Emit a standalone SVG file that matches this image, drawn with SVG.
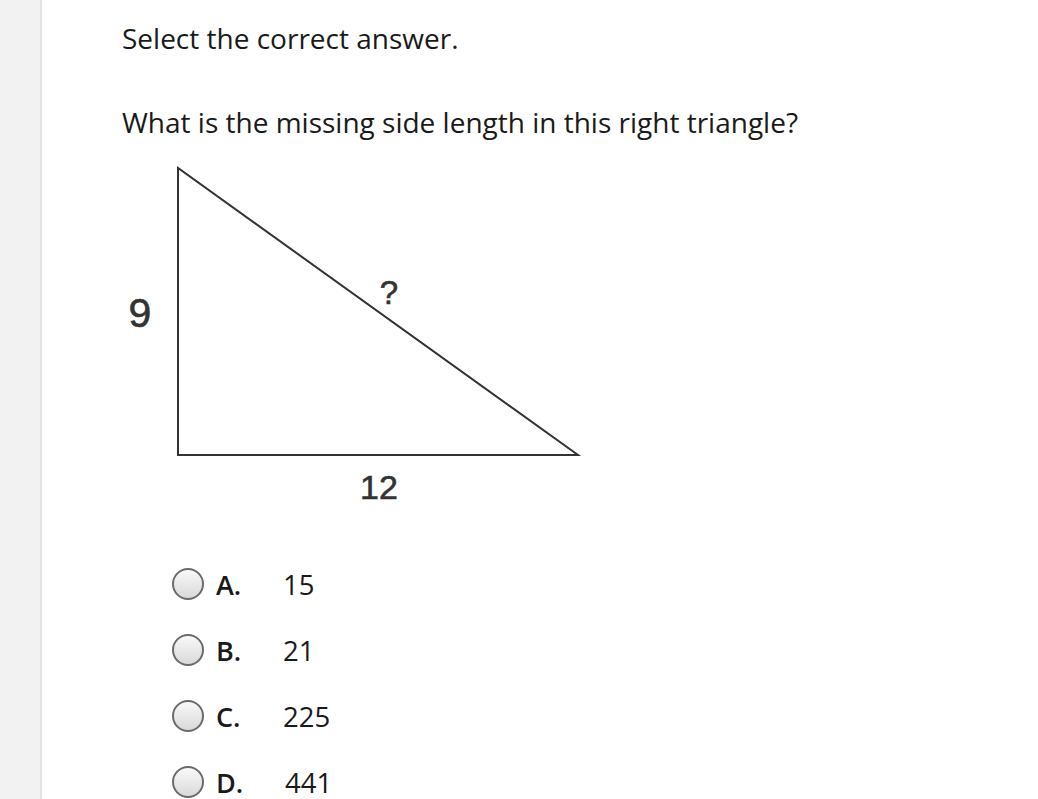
<svg xmlns="http://www.w3.org/2000/svg" width="1038" height="799" viewBox="0 0 1038 799">
<defs>
<linearGradient id="rg" x1="0" y1="0" x2="0" y2="1">
<stop offset="0" stop-color="#fafafa"/>
<stop offset="1" stop-color="#d8d8d8"/>
</linearGradient>
<style>
.q{font-family:"Open Sans","Liberation Sans",sans-serif;font-size:28px;fill:#1a1a1a}
.lab{font-family:"Open Sans","Liberation Sans",sans-serif;font-size:27px;font-weight:600;fill:#1a1a1a}
.val{font-family:"Open Sans","Liberation Sans",sans-serif;font-size:27.5px;fill:#1a1a1a}
.fig{font-family:"Liberation Sans",Arial,sans-serif;fill:#333;stroke:#333;stroke-width:0.6}
.radio{fill:url(#rg);stroke:#6b6b6b;stroke-width:2}
</style>
</defs>
<rect width="1038" height="799" fill="#ffffff"/>
<rect x="0" y="0" width="41" height="799" fill="#f2f2f2"/>
<line x1="41" y1="0" x2="41" y2="799" stroke="#e4e4e4" stroke-width="2"/>
<g id="header">
<text class="q" x="122" y="49">Select the correct answer.</text>
<text class="q" x="122" y="133">What is the missing side length in this right triangle?</text>
</g>
<g id="triangle">
<polygon points="178,168 178,455 578,455" fill="none" stroke="#333" stroke-width="2" stroke-linejoin="miter"/>
<text class="fig" x="140" y="327" font-size="41" text-anchor="middle">9</text>
<text class="fig" x="389" y="304" font-size="33" text-anchor="middle">?</text>
<text class="fig" x="379" y="499" font-size="34" text-anchor="middle">12</text>
</g>
<g id="optA">
<circle class="radio" cx="188" cy="584" r="15"/>
<text class="lab" x="216" y="595">A.</text>
<text class="val" x="283" y="595">15</text>
</g>
<g id="optB">
<circle class="radio" cx="188" cy="650" r="15"/>
<text class="lab" x="216" y="661">B.</text>
<text class="val" x="283" y="661">21</text>
</g>
<g id="optC">
<circle class="radio" cx="188" cy="716" r="15"/>
<text class="lab" x="216" y="727">C.</text>
<text class="val" x="283" y="727">225</text>
</g>
<g id="optD">
<circle class="radio" cx="188" cy="782" r="15"/>
<text class="lab" x="216" y="793">D.</text>
<text class="val" x="285" y="793">441</text>
</g>
</svg>
